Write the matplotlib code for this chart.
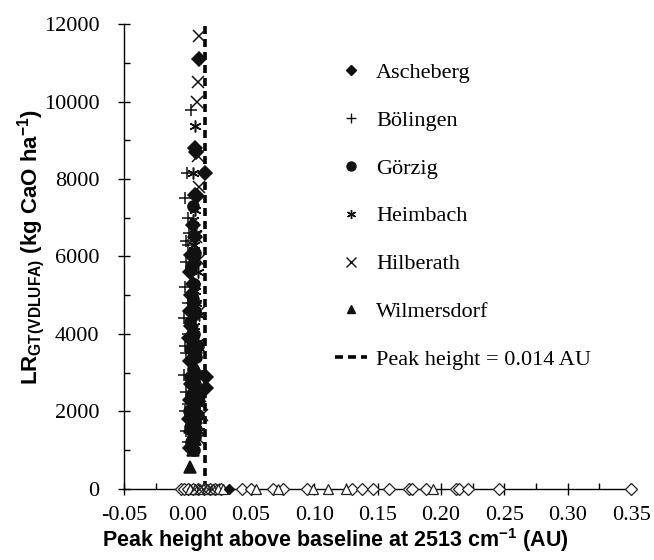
import numpy as np
import matplotlib
matplotlib.use("Agg")
import matplotlib.pyplot as plt
from matplotlib.ticker import MultipleLocator, FormatStrFormatter
from matplotlib.lines import Line2D

plt.rcParams["font.family"] = ["Liberation Serif", "DejaVu Serif"]
plt.rcParams["mathtext.fontset"] = "custom"
plt.rcParams["mathtext.rm"] = "Liberation Sans:bold"
plt.rcParams["mathtext.it"] = "Liberation Sans:bold:italic"
plt.rcParams["mathtext.bf"] = "Liberation Sans:bold"

THRESHOLD = 0.014

# ---- data (peak height AU, LR kg CaO/ha)
asch_x = [0.0087, 0.006, 0.007, 0.0140, 0.006, 0.0075, 0.004, 0.006, 0.003, 0.005, 0.002, 0.004,
          0.003, 0.005, 0.002, 0.006, 0.003, 0.001, 0.004, 0.006, 0.002, 0.0145, 0.008, 0.003,
          0.005, 0.002, 0.007, 0.004, 0.001, 0.006, 0.003, 0.005, 0.002, 0.0145]
asch_y = [11100, 8800, 8700, 8150, 7600, 7550, 6800, 6500, 6050, 5800, 5600, 5300,
          5000, 4800, 4600, 4500, 4200, 3900, 3700, 3500, 3300, 2900, 2950, 2700,
          2500, 2300, 2200, 2000, 1800, 1700, 1500, 1300, 1050, 2600]

boel_x = [0.0024, -0.0005, -0.002, 0.000, 0.001, -0.001, 0.000, -0.001, 0.001, -0.002, 0.000,
          -0.003, 0.000, -0.002, -0.001, -0.003, -0.001, 0.000, -0.002, 0.001, -0.001, 0.000]
boel_y = [9780, 8150, 7500, 7000, 6600, 6400, 6300, 5850, 5600, 5200, 4800,
          4400, 4000, 3700, 3500, 2950, 2500, 2200, 2000, 1800, 1500, 1200]

goer_x = [0.004, 0.006, 0.002, 0.005, 0.003, 0.007, 0.004, 0.002, 0.006, 0.003, 0.005, 0.008,
          0.004, 0.002, 0.006, 0.003, 0.005, 0.007, 0.001, 0.009, 0.008, 0.005, 0.003, 0.006, 0.004]
goer_y = [4900, 4600, 4300, 4000, 3600, 3400, 3100, 2900, 2700, 2400, 2100, 1900,
          1700, 1600, 1400, 1200, 1000, 1550, 2000, 2400, 3700, 5300, 5700, 6100, 7300]

heim_x = [0.006, 0.0065, 0.004, 0.006, 0.006, 0.004, 0.007, 0.005, 0.006, 0.008, 0.006,
          0.007, 0.009, 0.005, 0.008, 0.006, 0.008, 0.005, 0.009, 0.007, 0.009, 0.006]
heim_y = [9370, 8750, 8150, 7600, 7200, 6950, 6600, 6300, 5900, 5600, 5100,
          4800, 4500, 4200, 3800, 3400, 3000, 2700, 2200, 1800, 1500, 1200]

hilb_x = [0.0087, 0.008, 0.0075, 0.008, 0.009, 0.007, 0.009, 0.010, 0.009, 0.010, 0.011, 0.009]
hilb_y = [11700, 10500, 10000, 8600, 7800, 6500, 5900, 4600, 3700, 2400, 1900, 1300]

wilm_x = [0.0016, 0.004, 0.006, 0.003, 0.005, 0.004, 0.006, 0.002]
wilm_y = [570, 1000, 1300, 2200, 3200, 4100, 2600, 1600]

# samples with no lime requirement (LR = 0), open symbols
zero_diam_x = [-0.005, -0.003, 0.000, 0.004, 0.008, 0.013, 0.018, 0.022, 0.026, 0.043, 0.050,
               0.067, 0.075, 0.094, 0.130, 0.138, 0.146, 0.159, 0.175, 0.177, 0.188, 0.212,
               0.214, 0.221, 0.246, 0.350]
zero_tri_x = [0.002, 0.006, 0.010, 0.015, 0.020, 0.024, 0.028, 0.054, 0.071, 0.099, 0.111,
              0.125, 0.194]
zero_cross_x = [0.005, 0.009, 0.012, 0.016, 0.019]
zero_filled_x = [0.033]

sites = ["Ascheberg", "Bölingen", "Görzig", "Heimbach", "Hilberath", "Wilmersdorf"]
markers = ["D", "+", "o", (6, 2, 0), "x", "^"]
sizes = [7, 9, 8, 8.5, 8.5, 8]
legend_sizes = [5, 7, 6.5, 6.5, 6.5, 6]
series = [(asch_x, asch_y), (boel_x, boel_y), (goer_x, goer_y),
          (heim_x, heim_y), (hilb_x, hilb_y), (wilm_x, wilm_y)]

fig = plt.figure(figsize=(6.54, 5.6), dpi=100)
ax = fig.add_axes([0.19, 0.127, 0.775, 0.83])

for (xs, ys), m, ms in zip(series, markers, sizes):
    ax.plot(xs, ys, linestyle="none", marker=m, ms=ms, color="#111111",
            mec="#111111", mew=1.1, clip_on=False, zorder=3)

ax.plot(zero_diam_x, np.zeros(len(zero_diam_x)), linestyle="none", marker="D", ms=6.5,
        mfc="white", mec="#222222", mew=0.9, clip_on=False, zorder=4)
ax.plot(zero_tri_x, np.zeros(len(zero_tri_x)), linestyle="none", marker="^", ms=7.5,
        mfc="white", mec="#222222", mew=0.9, clip_on=False, zorder=4)
ax.plot(zero_cross_x, np.zeros(len(zero_cross_x)), linestyle="none", marker="x", ms=6.5,
        color="#222222", mew=0.9, clip_on=False, zorder=4)
ax.plot(zero_filled_x, np.zeros(len(zero_filled_x)), linestyle="none", marker="D", ms=5.5,
        color="#111111", clip_on=False, zorder=4)

ax.axvline(THRESHOLD, color="black", lw=2.6, linestyle=(0, (2.2, 1.4)), zorder=2)

ax.set_xlim(-0.05, 0.35)
ax.set_ylim(0, 12000)
ax.spines["top"].set_visible(False)
ax.spines["right"].set_visible(False)
ax.spines["left"].set_linewidth(1.0)
ax.spines["bottom"].set_linewidth(1.0)

ax.xaxis.set_major_locator(MultipleLocator(0.05))
ax.xaxis.set_minor_locator(MultipleLocator(0.025))
ax.xaxis.set_major_formatter(FormatStrFormatter("%.2f"))
ax.yaxis.set_major_locator(MultipleLocator(2000))
ax.yaxis.set_minor_locator(MultipleLocator(1000))
ax.tick_params(which="major", direction="inout", length=8, width=1.0, labelsize=16, pad=8)
ax.tick_params(which="minor", direction="in", length=4, width=1.0)
ax.tick_params(axis="y", which="major", pad=14)

ax.set_xlabel(r"Peak height above baseline at 2513 cm$^{-1}$ (AU)",
              family="Liberation Sans", fontweight="bold", fontsize=15.5)
ax.xaxis.set_label_coords(0.416, -0.08)
ax.set_ylabel(r"LR$_{\mathrm{GT(VDLUFA)}}$ (kg CaO ha$^{-1}$)",
              family="Liberation Sans", fontweight="bold", fontsize=16)
ax.yaxis.set_label_coords(-0.152, 0.52)

handles = [Line2D([], [], linestyle="none", marker=m, ms=ms, color="#111111", mew=1.0)
           for m, ms in zip(markers, legend_sizes)]
handles.append(Line2D([], [], color="black", lw=2.6, linestyle=(0, (2.2, 1.4))))
labels = sites + ["Peak height = 0.014 AU"]
ax.legend(handles, labels, loc="upper left", bbox_to_anchor=(0.416, 0.918),
          bbox_transform=ax.transAxes, frameon=False, fontsize=16, borderpad=0,
          borderaxespad=0, labelspacing=1.23, handlelength=1.45, handletextpad=0.4)

fig.savefig("out.png", dpi=100)
